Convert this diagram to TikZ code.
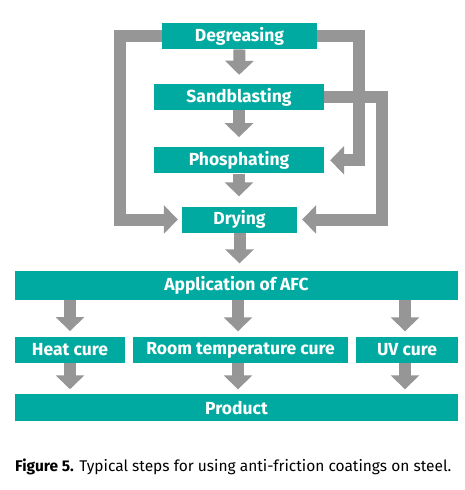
\documentclass[tikz,border=0pt]{standalone}
\usepackage{fontspec}
\setmainfont{Fira Sans}
\usetikzlibrary{arrows.meta}
\definecolor{teal1}{RGB}{0,170,160}
\definecolor{grayarrow}{RGB}{150,150,150}
\tikzset{
  box/.style={fill=teal1, draw=none, text=white, font=\fontsize{17.5}{20}\selectfont\bfseries, inner sep=0pt, anchor=center},
  bigarrow/.style={draw=grayarrow, line width=12pt, line join=miter, -{Triangle[width=28pt,length=14pt]}},
}
\begin{document}
\begin{tikzpicture}[x=1pt,y=-1pt]
\useasboundingbox (0,0) rectangle (465,490);
\fill[white] (0,0) rectangle (465,490);
% boxes
\node[box, minimum width=155pt, minimum height=26.5pt] (deg) at (239.5,36) {Degreasing};
\node[box, minimum width=170pt, minimum height=26pt] (sand) at (239,97) {Sandblasting};
\node[box, minimum width=170pt, minimum height=26pt] (phos) at (239,160.3) {Phosphating};
\node[box, minimum width=115pt, minimum height=26pt] (dry) at (239.5,219.5) {Drying};
\node[box, minimum width=443pt, minimum height=29.5pt] (app) at (236.5,285.3) {Application of AFC};
\node[box, minimum width=110pt, minimum height=25.5pt] (heat) at (70,350) {Heat cure};
\node[box, minimum width=215.5pt, minimum height=25.5pt] (room) at (240.5,350) {Room temperature cure};
\node[box, minimum width=101.5pt, minimum height=25.5pt] (uv) at (407,350) {UV cure};
\node[box, minimum width=443pt, minimum height=26.5pt] (prod) at (236.5,407.7) {Product};
% routing coordinates
\coordinate (lx) at (119.5,0);
\coordinate (r1x) at (359,0);
\coordinate (r2x) at (381.5,0);
% down arrows
\draw[bigarrow, shorten >=9pt] (deg.south) -- (sand.north);
\draw[bigarrow, shorten >=10pt] (sand.south) -- (phos.north);
\draw[bigarrow, shorten >=10pt] (phos.south) -- (phos.south |- dry.north);
\draw[bigarrow, shorten >=7pt] (dry.south) -- (dry.south |- app.north);
\draw[bigarrow, shorten >=6pt] (app.south -| heat.north) -- (heat.north);
\draw[bigarrow, shorten >=6pt] (app.south -| 238,0) -- (238,337.3);
\draw[bigarrow, shorten >=6pt] (app.south -| 405,0) -- (405,337.3);
\draw[bigarrow, shorten >=5pt] (heat.south) -- (heat.south |- prod.north);
\draw[bigarrow, shorten >=5pt] (room.south -| 238,0) -- (238,394.3);
\draw[bigarrow, shorten >=5pt] (uv.south -| 405,0) -- (405,394.3);
% loop arrows
\draw[bigarrow] (deg.west) -- (deg.west -| lx) |- ([xshift=-4pt]dry.west);
\draw[bigarrow] (deg.east) -- (deg.east -| r1x) |- ([xshift=6pt]phos.east);
\draw[bigarrow] (sand.east) -- (sand.east -| r2x) |- ([xshift=5pt]dry.east);
% caption
\node[anchor=west, inner sep=0pt, font=\fontsize{15.5}{18}\selectfont] (cap) at (15,467) {\textbf{Figure 5.} Typical steps for using anti-friction coatings on steel.};
\end{tikzpicture}
\end{document}
